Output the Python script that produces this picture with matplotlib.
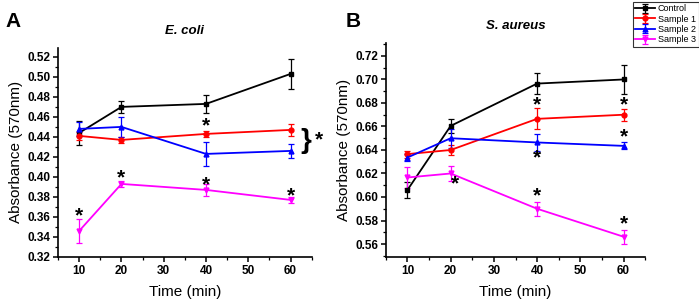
import matplotlib
matplotlib.use("Agg")
import matplotlib.pyplot as plt
from matplotlib.ticker import MultipleLocator

plt.rcParams['font.family'] = ['Liberation Sans', 'DejaVu Sans']

time = [10, 20, 40, 60]
series = ["Control", "Sample 1", "Sample 2", "Sample 3"]
colors = ["black", "red", "blue", "magenta"]
markers = ["s", "o", "^", "v"]

ecoli_mean = {
    "Control": [0.444, 0.470, 0.473, 0.503],
    "Sample 1": [0.441, 0.437, 0.443, 0.447],
    "Sample 2": [0.448, 0.450, 0.423, 0.426],
    "Sample 3": [0.346, 0.393, 0.387, 0.377],
}
ecoli_err = {
    "Control": [0.012, 0.006, 0.009, 0.015],
    "Sample 1": [0.004, 0.003, 0.003, 0.006],
    "Sample 2": [0.007, 0.010, 0.012, 0.007],
    "Sample 3": [0.012, 0.003, 0.006, 0.003],
}
saureus_mean = {
    "Control": [0.606, 0.6605, 0.6965, 0.700],
    "Sample 1": [0.6365, 0.640, 0.6665, 0.670],
    "Sample 2": [0.6336, 0.650, 0.6464, 0.6435],
    "Sample 3": [0.6166, 0.620, 0.590, 0.5662],
}
saureus_err = {
    "Control": [0.0066, 0.006, 0.009, 0.012],
    "Sample 1": [0.003, 0.004, 0.009, 0.005],
    "Sample 2": [0.003, 0.008, 0.007, 0.003],
    "Sample 3": [0.009, 0.006, 0.006, 0.006],
}
# significance asterisks (x, y)
ecoli_stars_x = [40, 10, 20, 40, 60]
ecoli_stars_y = [0.451, 0.361, 0.399, 0.392, 0.381]
saureus_stars_x = [40, 60, 60, 40, 21, 40, 60]
saureus_stars_y = [0.678, 0.678, 0.651, 0.633, 0.611, 0.601, 0.577]

fig = plt.figure(figsize=(6.99, 3.03), dpi=100)
axA = fig.add_axes([0.083, 0.152, 0.363, 0.69])
axB = fig.add_axes([0.552, 0.152, 0.371, 0.706])


def draw(ax, means, errs, ylim, title):
    for s, c, m in zip(series, colors, markers):
        ax.errorbar(time, means[s], yerr=errs[s], color=c, marker=m, markersize=3.5,
                    linewidth=1.3, elinewidth=0.9, capsize=2, capthick=0.9, label=s)
    ax.set_xlim(5, 65)
    ax.set_ylim(*ylim)
    ax.xaxis.set_major_locator(MultipleLocator(10))
    ax.xaxis.set_minor_locator(MultipleLocator(5))
    ax.yaxis.set_major_locator(MultipleLocator(0.02))
    ax.yaxis.set_minor_locator(MultipleLocator(0.01))
    ax.yaxis.set_major_formatter(matplotlib.ticker.FormatStrFormatter('%.2f'))
    for sp in ["top", "right"]:
        ax.spines[sp].set_visible(False)
    for sp in ["left", "bottom"]:
        ax.spines[sp].set_linewidth(1.2)
    ax.tick_params(which="major", direction="out", length=3.5, width=1.1, labelsize=8.5, pad=2)
    ax.tick_params(which="minor", direction="out", length=2, width=0.9)
    for lab in ax.get_xticklabels() + ax.get_yticklabels():
        lab.set_fontweight("bold")
    ax.set_xlabel("Time (min)", fontsize=11, labelpad=6)
    ax.set_ylabel("Absorbance (570nm)", fontsize=11, labelpad=3)
    ax.set_title(title, fontsize=9.5, fontweight="bold", style="italic", pad=10)


draw(axA, ecoli_mean, ecoli_err, (0.32, 0.529), "E. coli")
draw(axB, saureus_mean, saureus_err, (0.549, 0.731), "S. aureus")

for x, y in zip(ecoli_stars_x, ecoli_stars_y):
    axA.text(x, y, "*", ha="center", va="center", fontsize=15, fontweight="bold")
for x, y in zip(saureus_stars_x, saureus_stars_y):
    axB.text(x, y, "*", ha="center", va="center", fontsize=15, fontweight="bold")

# brace with asterisk for samples 1 and 2 (E. coli)
axA.text(63.5, 0.4355, "}", ha="center", va="center", fontsize=20, fontweight="bold",
         clip_on=False)
axA.text(66.8, 0.437, "*", ha="center", va="center", fontsize=15, fontweight="bold",
         clip_on=False)

fig.text(0.008, 0.93, "A", fontsize=15, fontweight="bold", va="center")
fig.text(0.495, 0.93, "B", fontsize=15, fontweight="bold", va="center")

leg = axB.legend(loc="upper left", bbox_to_anchor=(0.905, 0.995), bbox_transform=fig.transFigure,
                 fontsize=6.5, frameon=True, fancybox=False, edgecolor="black",
                 handlelength=2.2, handletextpad=0.3, borderpad=0.3, labelspacing=0.15,
                 borderaxespad=0)
leg.get_frame().set_linewidth(0.8)

fig.savefig("out.png", dpi=100)
